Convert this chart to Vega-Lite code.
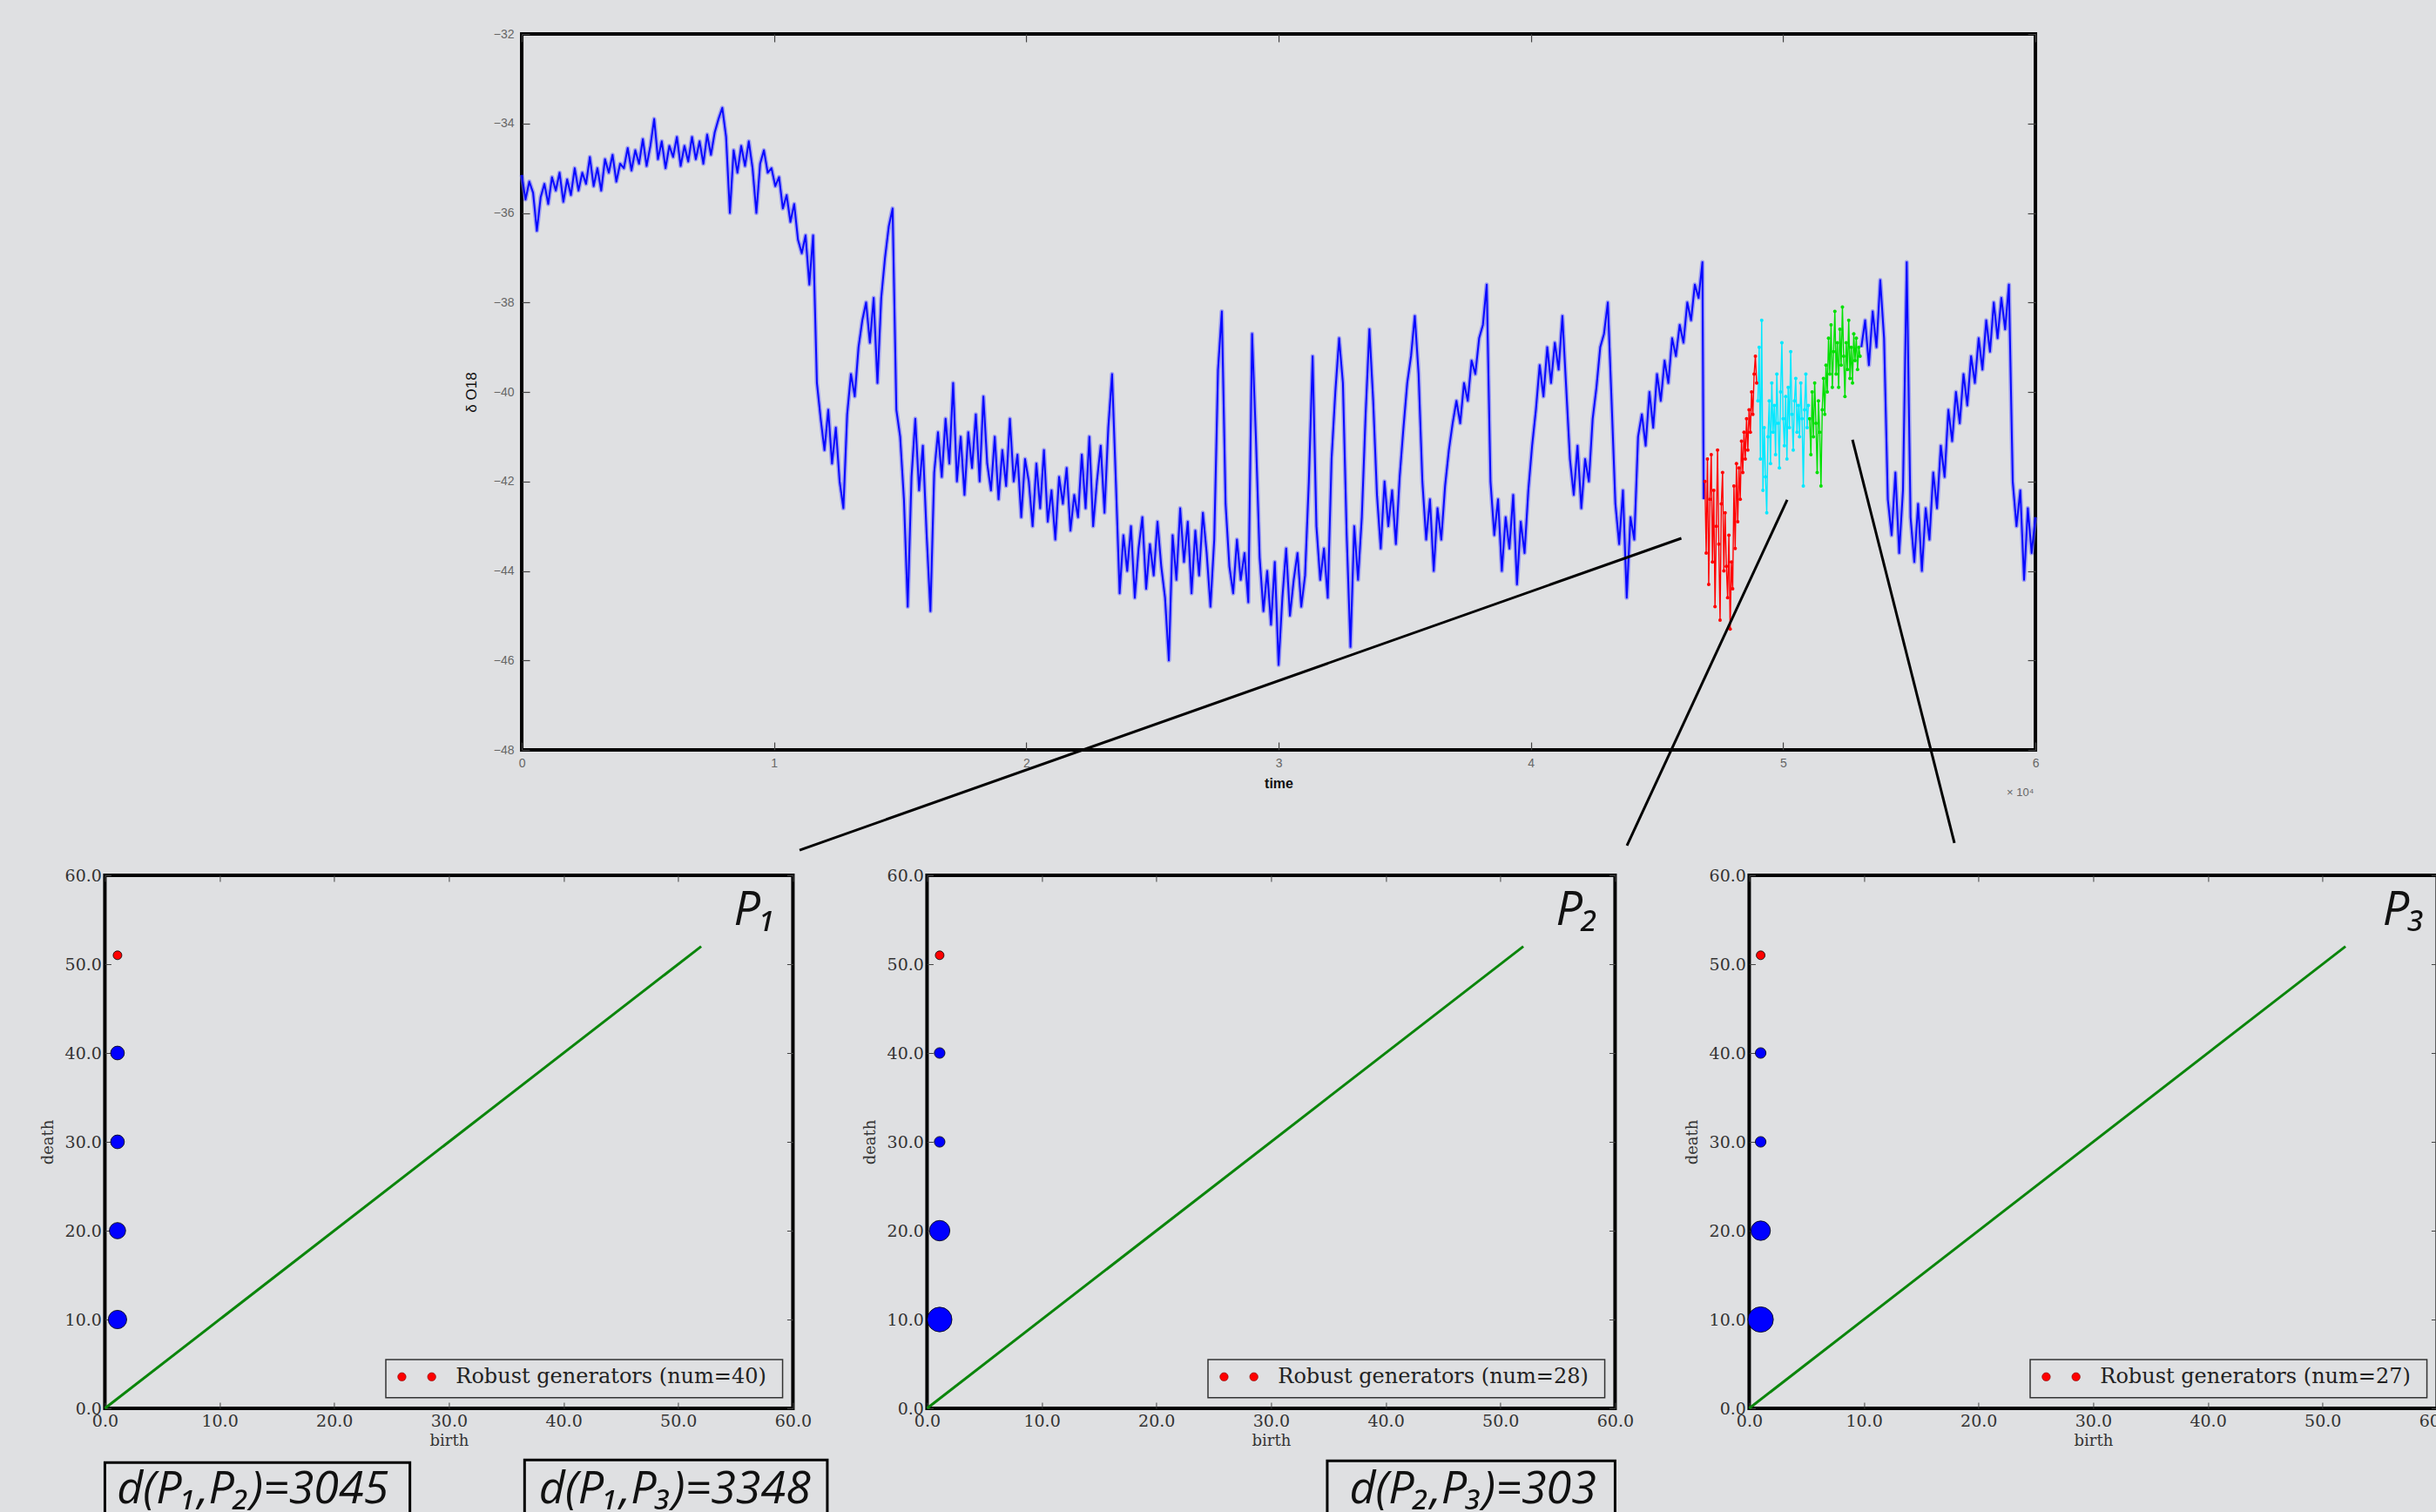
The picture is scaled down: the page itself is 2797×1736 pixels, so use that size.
{
"$schema": "https://vega.github.io/schema/vega-lite/v6.json",
"background": "#dfe0e2",
"padding": {"left": 44, "top": 30, "right": 0, "bottom": 0},
"autosize": {"type": "pad"},
"center": true,
"spacing": 14,
"resolve": {"scale": {"color": "independent", "size": "independent"}},
"config": {"view": {"stroke": "black", "strokeWidth": 4}, "axis": {"grid": false, "domain": false, "labelOverlap": false, "labelFlush": false}},
"datasets": {
"series": [
{"time":0,"d18O":-35.15,"part":"a"},{"time":150,"d18O":-35.7,"part":"a"},{"time":300,"d18O":-35.3,"part":"a"},{"time":450,"d18O":-35.55,"part":"a"},{"time":600,"d18O":-36.4,"part":"a"},{"time":750,"d18O":-35.65,"part":"a"},{"time":900,"d18O":-35.35,"part":"a"},{"time":1050,"d18O":-35.8,"part":"a"},{"time":1200,"d18O":-35.2,"part":"a"},{"time":1350,"d18O":-35.5,"part":"a"},{"time":1500,"d18O":-35.1,"part":"a"},{"time":1650,"d18O":-35.75,"part":"a"},{"time":1800,"d18O":-35.25,"part":"a"},{"time":1950,"d18O":-35.6,"part":"a"},
{"time":2100,"d18O":-35.0,"part":"a"},{"time":2250,"d18O":-35.5,"part":"a"},{"time":2400,"d18O":-35.1,"part":"a"},{"time":2550,"d18O":-35.35,"part":"a"},{"time":2700,"d18O":-34.75,"part":"a"},{"time":2850,"d18O":-35.4,"part":"a"},{"time":3000,"d18O":-35.0,"part":"a"},{"time":3150,"d18O":-35.5,"part":"a"},{"time":3300,"d18O":-34.8,"part":"a"},{"time":3450,"d18O":-35.1,"part":"a"},{"time":3600,"d18O":-34.7,"part":"a"},{"time":3750,"d18O":-35.3,"part":"a"},{"time":3900,"d18O":-34.9,"part":"a"},
{"time":4050,"d18O":-35.0,"part":"a"},{"time":4200,"d18O":-34.55,"part":"a"},{"time":4350,"d18O":-35.05,"part":"a"},{"time":4500,"d18O":-34.6,"part":"a"},{"time":4650,"d18O":-34.9,"part":"a"},{"time":4800,"d18O":-34.35,"part":"a"},{"time":4950,"d18O":-34.95,"part":"a"},{"time":5100,"d18O":-34.5,"part":"a"},{"time":5250,"d18O":-33.9,"part":"a"},{"time":5400,"d18O":-34.8,"part":"a"},{"time":5550,"d18O":-34.4,"part":"a"},{"time":5700,"d18O":-35.0,"part":"a"},{"time":5850,"d18O":-34.5,"part":"a"},{"time":6000,"d18O":-34.75,"part":"a"},{"time":6150,"d18O":-34.3,"part":"a"},{"time":6300,"d18O":-34.95,"part":"a"},{"time":6450,"d18O":-34.5,"part":"a"},{"time":6600,"d18O":-34.85,"part":"a"},{"time":6750,"d18O":-34.3,"part":"a"},{"time":6900,"d18O":-34.8,"part":"a"},{"time":7050,"d18O":-34.4,"part":"a"},{"time":7200,"d18O":-34.9,"part":"a"},{"time":7350,"d18O":-34.25,"part":"a"},{"time":7500,"d18O":-34.7,"part":"a"},
{"time":7650,"d18O":-34.2,"part":"a"},{"time":7800,"d18O":-33.9,"part":"a"},{"time":7950,"d18O":-33.65,"part":"a"},{"time":8100,"d18O":-34.3,"part":"a"},{"time":8250,"d18O":-36.0,"part":"a"},{"time":8400,"d18O":-34.6,"part":"a"},{"time":8550,"d18O":-35.1,"part":"a"},{"time":8700,"d18O":-34.5,"part":"a"},{"time":8850,"d18O":-34.95,"part":"a"},{"time":9000,"d18O":-34.4,"part":"a"},{"time":9150,"d18O":-35.0,"part":"a"},{"time":9300,"d18O":-36.0,"part":"a"},{"time":9450,"d18O":-34.9,"part":"a"},{"time":9600,"d18O":-34.6,"part":"a"},{"time":9750,"d18O":-35.1,"part":"a"},
{"time":9900,"d18O":-35.0,"part":"a"},{"time":10050,"d18O":-35.4,"part":"a"},{"time":10200,"d18O":-35.2,"part":"a"},{"time":10350,"d18O":-35.9,"part":"a"},{"time":10500,"d18O":-35.6,"part":"a"},{"time":10650,"d18O":-36.2,"part":"a"},{"time":10800,"d18O":-35.8,"part":"a"},{"time":10950,"d18O":-36.6,"part":"a"},{"time":11100,"d18O":-36.9,"part":"a"},{"time":11250,"d18O":-36.5,"part":"a"},{"time":11400,"d18O":-37.6,"part":"a"},{"time":11550,"d18O":-36.5,"part":"a"},
{"time":11700,"d18O":-39.8,"part":"a"},{"time":11850,"d18O":-40.6,"part":"a"},{"time":12000,"d18O":-41.3,"part":"a"},{"time":12150,"d18O":-40.4,"part":"a"},{"time":12300,"d18O":-41.6,"part":"a"},{"time":12450,"d18O":-40.8,"part":"a"},{"time":12600,"d18O":-42.0,"part":"a"},{"time":12750,"d18O":-42.6,"part":"a"},{"time":12900,"d18O":-40.5,"part":"a"},{"time":13050,"d18O":-39.6,"part":"a"},{"time":13200,"d18O":-40.1,"part":"a"},{"time":13350,"d18O":-39.0,"part":"a"},{"time":13500,"d18O":-38.4,"part":"a"},{"time":13650,"d18O":-38.0,"part":"a"},{"time":13800,"d18O":-38.9,"part":"a"},{"time":13950,"d18O":-37.9,"part":"a"},{"time":14100,"d18O":-39.8,"part":"a"},{"time":14250,"d18O":-37.9,"part":"a"},{"time":14400,"d18O":-37.0,"part":"a"},{"time":14550,"d18O":-36.3,"part":"a"},{"time":14700,"d18O":-35.9,"part":"a"},{"time":14850,"d18O":-40.4,"part":"a"},
{"time":15000,"d18O":-41.0,"part":"a"},{"time":15150,"d18O":-42.4,"part":"a"},{"time":15300,"d18O":-44.8,"part":"a"},{"time":15450,"d18O":-41.9,"part":"a"},{"time":15600,"d18O":-40.6,"part":"a"},{"time":15750,"d18O":-42.2,"part":"a"},{"time":15900,"d18O":-41.2,"part":"a"},{"time":16050,"d18O":-43.2,"part":"a"},{"time":16200,"d18O":-44.9,"part":"a"},{"time":16350,"d18O":-41.8,"part":"a"},{"time":16500,"d18O":-40.9,"part":"a"},
{"time":16650,"d18O":-41.9,"part":"a"},{"time":16800,"d18O":-40.6,"part":"a"},{"time":16950,"d18O":-41.6,"part":"a"},{"time":17100,"d18O":-39.8,"part":"a"},{"time":17250,"d18O":-42.0,"part":"a"},{"time":17400,"d18O":-41.0,"part":"a"},{"time":17550,"d18O":-42.3,"part":"a"},{"time":17700,"d18O":-40.9,"part":"a"},{"time":17850,"d18O":-41.7,"part":"a"},{"time":18000,"d18O":-40.5,"part":"a"},{"time":18150,"d18O":-42.0,"part":"a"},{"time":18300,"d18O":-40.1,"part":"a"},{"time":18450,"d18O":-41.6,"part":"a"},{"time":18600,"d18O":-42.2,"part":"a"},
{"time":18750,"d18O":-41.0,"part":"a"},{"time":18900,"d18O":-42.4,"part":"a"},{"time":19050,"d18O":-41.3,"part":"a"},{"time":19200,"d18O":-42.1,"part":"a"},{"time":19350,"d18O":-40.6,"part":"a"},{"time":19500,"d18O":-42.0,"part":"a"},{"time":19650,"d18O":-41.4,"part":"a"},{"time":19800,"d18O":-42.8,"part":"a"},{"time":19950,"d18O":-41.5,"part":"a"},
{"time":20100,"d18O":-42.0,"part":"a"},{"time":20250,"d18O":-43.0,"part":"a"},{"time":20400,"d18O":-41.6,"part":"a"},{"time":20550,"d18O":-42.6,"part":"a"},{"time":20700,"d18O":-41.3,"part":"a"},{"time":20850,"d18O":-42.9,"part":"a"},{"time":21000,"d18O":-42.2,"part":"a"},{"time":21150,"d18O":-43.3,"part":"a"},{"time":21300,"d18O":-41.9,"part":"a"},{"time":21450,"d18O":-42.5,"part":"a"},{"time":21600,"d18O":-41.7,"part":"a"},{"time":21750,"d18O":-43.1,"part":"a"},{"time":21900,"d18O":-42.3,"part":"a"},
{"time":22050,"d18O":-42.8,"part":"a"},{"time":22200,"d18O":-41.4,"part":"a"},{"time":22350,"d18O":-42.6,"part":"a"},{"time":22500,"d18O":-41.0,"part":"a"},{"time":22650,"d18O":-43.0,"part":"a"},{"time":22800,"d18O":-42.0,"part":"a"},{"time":22950,"d18O":-41.2,"part":"a"},{"time":23100,"d18O":-42.7,"part":"a"},{"time":23250,"d18O":-40.8,"part":"a"},{"time":23400,"d18O":-39.6,"part":"a"},{"time":23550,"d18O":-42.0,"part":"a"},
{"time":23700,"d18O":-44.5,"part":"a"},{"time":23850,"d18O":-43.2,"part":"a"},{"time":24000,"d18O":-44.0,"part":"a"},{"time":24150,"d18O":-43.0,"part":"a"},{"time":24300,"d18O":-44.6,"part":"a"},{"time":24450,"d18O":-43.5,"part":"a"},{"time":24600,"d18O":-42.8,"part":"a"},{"time":24750,"d18O":-44.4,"part":"a"},{"time":24900,"d18O":-43.4,"part":"a"},{"time":25050,"d18O":-44.1,"part":"a"},{"time":25200,"d18O":-42.9,"part":"a"},
{"time":25350,"d18O":-43.9,"part":"a"},{"time":25500,"d18O":-44.6,"part":"a"},{"time":25650,"d18O":-46.0,"part":"a"},{"time":25800,"d18O":-43.2,"part":"a"},{"time":25950,"d18O":-44.2,"part":"a"},{"time":26100,"d18O":-42.6,"part":"a"},{"time":26250,"d18O":-43.8,"part":"a"},{"time":26400,"d18O":-42.9,"part":"a"},{"time":26550,"d18O":-44.5,"part":"a"},{"time":26700,"d18O":-43.1,"part":"a"},{"time":26850,"d18O":-44.1,"part":"a"},{"time":27000,"d18O":-42.7,"part":"a"},{"time":27150,"d18O":-43.6,"part":"a"},{"time":27300,"d18O":-44.8,"part":"a"},{"time":27450,"d18O":-43.3,"part":"a"},
{"time":27600,"d18O":-39.5,"part":"a"},{"time":27750,"d18O":-38.2,"part":"a"},{"time":27900,"d18O":-42.5,"part":"a"},{"time":28050,"d18O":-43.9,"part":"a"},{"time":28200,"d18O":-44.5,"part":"a"},{"time":28350,"d18O":-43.3,"part":"a"},{"time":28500,"d18O":-44.2,"part":"a"},{"time":28650,"d18O":-43.6,"part":"a"},{"time":28800,"d18O":-44.7,"part":"a"},{"time":28950,"d18O":-38.7,"part":"a"},{"time":29100,"d18O":-41.0,"part":"a"},
{"time":29250,"d18O":-43.7,"part":"a"},{"time":29400,"d18O":-44.9,"part":"a"},{"time":29550,"d18O":-44.0,"part":"a"},{"time":29700,"d18O":-45.2,"part":"a"},{"time":29850,"d18O":-43.8,"part":"a"},{"time":30000,"d18O":-46.1,"part":"a"},{"time":30150,"d18O":-44.6,"part":"a"},{"time":30300,"d18O":-43.5,"part":"a"},{"time":30450,"d18O":-45.0,"part":"a"},{"time":30600,"d18O":-44.2,"part":"a"},{"time":30750,"d18O":-43.6,"part":"a"},{"time":30900,"d18O":-44.8,"part":"a"},{"time":31050,"d18O":-44.1,"part":"a"},
{"time":31200,"d18O":-42.0,"part":"a"},{"time":31350,"d18O":-39.2,"part":"a"},{"time":31500,"d18O":-43.0,"part":"a"},{"time":31650,"d18O":-44.2,"part":"a"},{"time":31800,"d18O":-43.5,"part":"a"},{"time":31950,"d18O":-44.6,"part":"a"},{"time":32100,"d18O":-41.5,"part":"a"},{"time":32250,"d18O":-40.0,"part":"a"},{"time":32400,"d18O":-38.8,"part":"a"},{"time":32550,"d18O":-39.8,"part":"a"},{"time":32700,"d18O":-43.2,"part":"a"},{"time":32850,"d18O":-45.7,"part":"a"},{"time":33000,"d18O":-43.0,"part":"a"},{"time":33150,"d18O":-44.2,"part":"a"},{"time":33300,"d18O":-42.8,"part":"a"},{"time":33450,"d18O":-40.5,"part":"a"},{"time":33600,"d18O":-38.6,"part":"a"},{"time":33750,"d18O":-40.2,"part":"a"},{"time":33900,"d18O":-42.3,"part":"a"},{"time":34050,"d18O":-43.5,"part":"a"},{"time":34200,"d18O":-42.0,"part":"a"},{"time":34350,"d18O":-43.0,"part":"a"},{"time":34500,"d18O":-42.2,"part":"a"},{"time":34650,"d18O":-43.4,"part":"a"},{"time":34800,"d18O":-41.9,"part":"a"},{"time":34950,"d18O":-40.8,"part":"a"},{"time":35100,"d18O":-39.8,"part":"a"},{"time":35250,"d18O":-39.2,"part":"a"},{"time":35400,"d18O":-38.3,"part":"a"},{"time":35550,"d18O":-39.6,"part":"a"},{"time":35700,"d18O":-42.0,"part":"a"},{"time":35850,"d18O":-43.3,"part":"a"},{"time":36000,"d18O":-42.4,"part":"a"},{"time":36150,"d18O":-44.0,"part":"a"},{"time":36300,"d18O":-42.6,"part":"a"},{"time":36450,"d18O":-43.3,"part":"a"},{"time":36600,"d18O":-42.1,"part":"a"},{"time":36750,"d18O":-41.3,"part":"a"},{"time":36900,"d18O":-40.7,"part":"a"},{"time":37050,"d18O":-40.2,"part":"a"},{"time":37200,"d18O":-40.7,"part":"a"},{"time":37350,"d18O":-39.8,"part":"a"},{"time":37500,"d18O":-40.2,"part":"a"},{"time":37650,"d18O":-39.3,"part":"a"},{"time":37800,"d18O":-39.6,"part":"a"},{"time":37950,"d18O":-38.8,"part":"a"},{"time":38100,"d18O":-38.5,"part":"a"},{"time":38250,"d18O":-37.6,"part":"a"},{"time":38400,"d18O":-42.0,"part":"a"},{"time":38550,"d18O":-43.2,"part":"a"},{"time":38700,"d18O":-42.4,"part":"a"},{"time":38850,"d18O":-44.0,"part":"a"},{"time":39000,"d18O":-42.8,"part":"a"},{"time":39150,"d18O":-43.5,"part":"a"},{"time":39300,"d18O":-42.3,"part":"a"},{"time":39450,"d18O":-44.3,"part":"a"},{"time":39600,"d18O":-42.9,"part":"a"},{"time":39750,"d18O":-43.6,"part":"a"},{"time":39900,"d18O":-42.2,"part":"a"},
{"time":40050,"d18O":-41.2,"part":"a"},{"time":40200,"d18O":-40.4,"part":"a"},{"time":40350,"d18O":-39.4,"part":"a"},{"time":40500,"d18O":-40.1,"part":"a"},{"time":40650,"d18O":-39.0,"part":"a"},{"time":40800,"d18O":-39.8,"part":"a"},{"time":40950,"d18O":-38.9,"part":"a"},{"time":41100,"d18O":-39.5,"part":"a"},{"time":41250,"d18O":-38.3,"part":"a"},{"time":41400,"d18O":-39.9,"part":"a"},{"time":41550,"d18O":-41.5,"part":"a"},{"time":41700,"d18O":-42.3,"part":"a"},{"time":41850,"d18O":-41.2,"part":"a"},{"time":42000,"d18O":-42.6,"part":"a"},{"time":42150,"d18O":-41.5,"part":"a"},{"time":42300,"d18O":-42.0,"part":"a"},{"time":42450,"d18O":-40.6,"part":"a"},{"time":42600,"d18O":-39.9,"part":"a"},{"time":42750,"d18O":-39.0,"part":"a"},{"time":42900,"d18O":-38.7,"part":"a"},{"time":43050,"d18O":-38.0,"part":"a"},{"time":43200,"d18O":-40.2,"part":"a"},{"time":43350,"d18O":-42.5,"part":"a"},{"time":43500,"d18O":-43.4,"part":"a"},{"time":43650,"d18O":-42.2,"part":"a"},{"time":43800,"d18O":-44.6,"part":"a"},{"time":43950,"d18O":-42.8,"part":"a"},{"time":44100,"d18O":-43.3,"part":"a"},{"time":44250,"d18O":-41.0,"part":"a"},{"time":44400,"d18O":-40.5,"part":"a"},{"time":44550,"d18O":-41.2,"part":"a"},{"time":44700,"d18O":-40.0,"part":"a"},{"time":44850,"d18O":-40.8,"part":"a"},{"time":45000,"d18O":-39.6,"part":"a"},{"time":45150,"d18O":-40.2,"part":"a"},{"time":45300,"d18O":-39.3,"part":"a"},{"time":45450,"d18O":-39.8,"part":"a"},{"time":45600,"d18O":-38.8,"part":"a"},{"time":45750,"d18O":-39.2,"part":"a"},{"time":45900,"d18O":-38.5,"part":"a"},{"time":46050,"d18O":-38.9,"part":"a"},{"time":46200,"d18O":-38.0,"part":"a"},{"time":46350,"d18O":-38.4,"part":"a"},{"time":46500,"d18O":-37.6,"part":"a"},{"time":46650,"d18O":-37.9,"part":"a"},{"time":46800,"d18O":-37.1,"part":"a"},{"time":46850,"d18O":-42.4,"part":"a"},
{"time":53100,"d18O":-39.0,"part":"b"},{"time":53250,"d18O":-38.4,"part":"b"},{"time":53400,"d18O":-39.4,"part":"b"},{"time":53550,"d18O":-38.2,"part":"b"},{"time":53700,"d18O":-39.0,"part":"b"},{"time":53850,"d18O":-37.5,"part":"b"},{"time":54000,"d18O":-38.8,"part":"b"},{"time":54150,"d18O":-42.4,"part":"b"},{"time":54300,"d18O":-43.2,"part":"b"},{"time":54450,"d18O":-41.8,"part":"b"},{"time":54600,"d18O":-43.6,"part":"b"},{"time":54750,"d18O":-42.2,"part":"b"},{"time":54900,"d18O":-37.1,"part":"b"},{"time":55050,"d18O":-42.8,"part":"b"},{"time":55200,"d18O":-43.8,"part":"b"},{"time":55350,"d18O":-42.5,"part":"b"},{"time":55500,"d18O":-44.0,"part":"b"},{"time":55650,"d18O":-42.6,"part":"b"},{"time":55800,"d18O":-43.3,"part":"b"},{"time":55950,"d18O":-41.8,"part":"b"},{"time":56100,"d18O":-42.6,"part":"b"},{"time":56250,"d18O":-41.2,"part":"b"},{"time":56400,"d18O":-41.9,"part":"b"},{"time":56550,"d18O":-40.4,"part":"b"},{"time":56700,"d18O":-41.1,"part":"b"},{"time":56850,"d18O":-40.0,"part":"b"},{"time":57000,"d18O":-40.7,"part":"b"},{"time":57150,"d18O":-39.6,"part":"b"},{"time":57300,"d18O":-40.3,"part":"b"},{"time":57450,"d18O":-39.2,"part":"b"},{"time":57600,"d18O":-39.8,"part":"b"},{"time":57750,"d18O":-38.8,"part":"b"},{"time":57900,"d18O":-39.5,"part":"b"},{"time":58050,"d18O":-38.4,"part":"b"},{"time":58200,"d18O":-39.1,"part":"b"},{"time":58350,"d18O":-38.0,"part":"b"},{"time":58500,"d18O":-38.8,"part":"b"},{"time":58650,"d18O":-37.9,"part":"b"},{"time":58800,"d18O":-38.6,"part":"b"},{"time":58950,"d18O":-37.6,"part":"b"},{"time":59100,"d18O":-42.0,"part":"b"},{"time":59250,"d18O":-43.0,"part":"b"},{"time":59400,"d18O":-42.2,"part":"b"},{"time":59550,"d18O":-44.2,"part":"b"},{"time":59700,"d18O":-42.6,"part":"b"},{"time":59850,"d18O":-43.6,"part":"b"},{"time":60000,"d18O":-42.8,"part":"b"}
],
"window": [
{"time":46900,"d18O":-42.0,"window":"red"},{"time":46950,"d18O":-43.6,"window":"red"},{"time":47000,"d18O":-41.5,"window":"red"},{"time":47050,"d18O":-44.3,"window":"red"},{"time":47100,"d18O":-42.4,"window":"red"},{"time":47150,"d18O":-41.4,"window":"red"},{"time":47200,"d18O":-43.8,"window":"red"},{"time":47250,"d18O":-42.2,"window":"red"},{"time":47300,"d18O":-44.8,"window":"red"},{"time":47350,"d18O":-43.0,"window":"red"},{"time":47400,"d18O":-41.3,"window":"red"},{"time":47450,"d18O":-43.4,"window":"red"},{"time":47500,"d18O":-45.1,"window":"red"},{"time":47550,"d18O":-42.5,"window":"red"},{"time":47600,"d18O":-41.8,"window":"red"},{"time":47650,"d18O":-44.0,"window":"red"},{"time":47700,"d18O":-42.7,"window":"red"},{"time":47750,"d18O":-43.9,"window":"red"},{"time":47800,"d18O":-44.6,"window":"red"},{"time":47850,"d18O":-43.2,"window":"red"},{"time":47900,"d18O":-45.3,"window":"red"},{"time":47950,"d18O":-43.8,"window":"red"},{"time":48000,"d18O":-44.4,"window":"red"},{"time":48050,"d18O":-42.1,"window":"red"},{"time":48100,"d18O":-43.5,"window":"red"},{"time":48150,"d18O":-41.6,"window":"red"},{"time":48200,"d18O":-42.9,"window":"red"},{"time":48250,"d18O":-41.7,"window":"red"},{"time":48300,"d18O":-42.4,"window":"red"},{"time":48350,"d18O":-41.1,"window":"red"},{"time":48400,"d18O":-41.8,"window":"red"},{"time":48450,"d18O":-40.9,"window":"red"},{"time":48500,"d18O":-41.5,"window":"red"},{"time":48550,"d18O":-40.6,"window":"red"},{"time":48600,"d18O":-41.3,"window":"red"},{"time":48650,"d18O":-40.4,"window":"red"},{"time":48700,"d18O":-40.9,"window":"red"},{"time":48750,"d18O":-40.0,"window":"red"},{"time":48800,"d18O":-40.5,"window":"red"},{"time":48850,"d18O":-39.6,"window":"red"},{"time":48900,"d18O":-39.2,"window":"red"},{"time":48950,"d18O":-39.8,"window":"red"},
{"time":49000,"d18O":-40.2,"window":"cyan"},{"time":49050,"d18O":-39.0,"window":"cyan"},{"time":49100,"d18O":-41.5,"window":"cyan"},{"time":49150,"d18O":-38.4,"window":"cyan"},{"time":49200,"d18O":-42.2,"window":"cyan"},{"time":49250,"d18O":-40.8,"window":"cyan"},{"time":49300,"d18O":-41.9,"window":"cyan"},{"time":49350,"d18O":-42.7,"window":"cyan"},{"time":49400,"d18O":-41.0,"window":"cyan"},{"time":49450,"d18O":-40.2,"window":"cyan"},{"time":49500,"d18O":-41.6,"window":"cyan"},{"time":49550,"d18O":-39.8,"window":"cyan"},{"time":49600,"d18O":-40.9,"window":"cyan"},{"time":49650,"d18O":-40.3,"window":"cyan"},{"time":49700,"d18O":-41.4,"window":"cyan"},{"time":49750,"d18O":-39.6,"window":"cyan"},{"time":49800,"d18O":-40.7,"window":"cyan"},{"time":49850,"d18O":-41.7,"window":"cyan"},{"time":49900,"d18O":-40.0,"window":"cyan"},{"time":49950,"d18O":-38.9,"window":"cyan"},{"time":50000,"d18O":-40.6,"window":"cyan"},{"time":50050,"d18O":-41.2,"window":"cyan"},{"time":50100,"d18O":-40.1,"window":"cyan"},{"time":50150,"d18O":-41.5,"window":"cyan"},{"time":50200,"d18O":-39.9,"window":"cyan"},{"time":50250,"d18O":-40.8,"window":"cyan"},{"time":50300,"d18O":-39.1,"window":"cyan"},{"time":50350,"d18O":-40.5,"window":"cyan"},{"time":50400,"d18O":-41.3,"window":"cyan"},{"time":50450,"d18O":-40.2,"window":"cyan"},{"time":50500,"d18O":-39.7,"window":"cyan"},{"time":50550,"d18O":-40.9,"window":"cyan"},{"time":50600,"d18O":-40.3,"window":"cyan"},{"time":50650,"d18O":-41.0,"window":"cyan"},{"time":50700,"d18O":-39.8,"window":"cyan"},{"time":50750,"d18O":-40.6,"window":"cyan"},{"time":50800,"d18O":-42.1,"window":"cyan"},{"time":50850,"d18O":-40.4,"window":"cyan"},{"time":50900,"d18O":-39.6,"window":"cyan"},{"time":50950,"d18O":-40.8,"window":"cyan"},{"time":51000,"d18O":-40.3,"window":"cyan"},
{"time":51050,"d18O":-40.6,"window":"green"},{"time":51100,"d18O":-41.4,"window":"green"},{"time":51150,"d18O":-40.0,"window":"green"},{"time":51200,"d18O":-41.0,"window":"green"},{"time":51250,"d18O":-39.8,"window":"green"},{"time":51300,"d18O":-40.7,"window":"green"},{"time":51350,"d18O":-41.8,"window":"green"},{"time":51400,"d18O":-40.2,"window":"green"},{"time":51450,"d18O":-40.9,"window":"green"},{"time":51500,"d18O":-42.1,"window":"green"},{"time":51550,"d18O":-40.4,"window":"green"},{"time":51600,"d18O":-39.7,"window":"green"},{"time":51650,"d18O":-40.5,"window":"green"},{"time":51700,"d18O":-39.4,"window":"green"},{"time":51750,"d18O":-40.0,"window":"green"},{"time":51800,"d18O":-38.8,"window":"green"},{"time":51850,"d18O":-39.6,"window":"green"},{"time":51900,"d18O":-38.5,"window":"green"},{"time":51950,"d18O":-39.9,"window":"green"},{"time":52000,"d18O":-39.1,"window":"green"},{"time":52050,"d18O":-38.2,"window":"green"},{"time":52100,"d18O":-39.6,"window":"green"},{"time":52150,"d18O":-38.9,"window":"green"},{"time":52200,"d18O":-39.9,"window":"green"},{"time":52250,"d18O":-38.6,"window":"green"},{"time":52300,"d18O":-39.4,"window":"green"},{"time":52350,"d18O":-38.1,"window":"green"},{"time":52400,"d18O":-39.2,"window":"green"},{"time":52450,"d18O":-40.1,"window":"green"},{"time":52500,"d18O":-38.9,"window":"green"},{"time":52550,"d18O":-39.5,"window":"green"},{"time":52600,"d18O":-38.4,"window":"green"},{"time":52650,"d18O":-39.7,"window":"green"},{"time":52700,"d18O":-39.0,"window":"green"},{"time":52750,"d18O":-39.8,"window":"green"},{"time":52800,"d18O":-38.7,"window":"green"},{"time":52850,"d18O":-39.3,"window":"green"},{"time":52900,"d18O":-38.8,"window":"green"},{"time":52950,"d18O":-39.5,"window":"green"},{"time":53000,"d18O":-39.0,"window":"green"},{"time":53050,"d18O":-39.2,"window":"green"}
],
"links": [
{"time":45966,"d18O":-43.27,"time2":11013,"d18O2":-50.24},
{"time":50161,"d18O":-42.41,"time2":43809,"d18O2":-50.14},
{"time":52750,"d18O":-41.07,"time2":56789,"d18O2":-50.08}
],
"diagram": [
{"panel":"P1","birth":1.1,"death":10,"kind":"generator","mult":9},{"panel":"P1","birth":1.1,"death":20,"kind":"generator","mult":7},{"panel":"P1","birth":1.1,"death":30,"kind":"generator","mult":5},{"panel":"P1","birth":1.1,"death":40,"kind":"generator","mult":5},{"panel":"P1","birth":1.1,"death":51,"kind":"robust","mult":2},
{"panel":"P2","birth":1.1,"death":10,"kind":"generator","mult":16},{"panel":"P2","birth":1.1,"death":20,"kind":"generator","mult":11},{"panel":"P2","birth":1.1,"death":30,"kind":"generator","mult":3},{"panel":"P2","birth":1.1,"death":40,"kind":"generator","mult":3},{"panel":"P2","birth":1.1,"death":51,"kind":"robust","mult":2},
{"panel":"P3","birth":1.0,"death":10,"kind":"generator","mult":17},{"panel":"P3","birth":1.0,"death":20,"kind":"generator","mult":10},{"panel":"P3","birth":1.0,"death":30,"kind":"generator","mult":3},{"panel":"P3","birth":1.0,"death":40,"kind":"generator","mult":3},{"panel":"P3","birth":1.0,"death":51,"kind":"robust","mult":2}
],
"diag_line": [{"birth":0,"death":0,"birth2":52,"death2":52}],
"legend_box": [{"birth":24.5,"death":1.2,"birth2":59.1,"death2":5.5}],
"legend_dots": [{"birth":25.9,"death":3.55},{"birth":28.5,"death":3.55}],
"legend_text": [
{"panel":"P1","birth":30.6,"death":3.55,"label":"Robust generators (num=40)"},
{"panel":"P2","birth":30.6,"death":3.55,"label":"Robust generators (num=28)"},
{"panel":"P3","birth":30.6,"death":3.55,"label":"Robust generators (num=27)"}
],
"panel_names": [
{"panel":"P1","birth":58.6,"death":54.4,"label":"P₁"},
{"panel":"P2","birth":58.6,"death":54.4,"label":"P₂"},
{"panel":"P3","birth":59.0,"death":54.4,"label":"P₃"}
],
"distance_boxes": [
{"panel":"P1","birth":0,"birth2":26.6,"death":-6.1,"death2":-14},
{"panel":"P1","birth":36.6,"birth2":63.0,"death":-5.8,"death2":-14},
{"panel":"P2","birth":34.9,"birth2":60.0,"death":-5.9,"death2":-14}
],
"distance_text": [
{"panel":"P1","birth":12.9,"death":-10.7,"label":"d(P₁,P₂)=3045"},
{"panel":"P1","birth":49.7,"death":-10.7,"label":"d(P₁,P₃)=3348"},
{"panel":"P2","birth":47.6,"death":-10.7,"label":"d(P₂,P₃)=303"}
]
},
"vconcat": [
{
"width": 1738, "height": 822,
"resolve": {"axis": {"x": "independent", "y": "independent"}},
"layer": [
{"data": {"name": "series"},
 "mark": {"type": "line", "color": "#6a6aff", "strokeWidth": 5, "opacity": 0.55, "strokeJoin": "round", "strokeCap": "butt"},
 "encoding": {
  "x": {"field": "time", "type": "quantitative", "scale": {"domain": [0, 60000], "nice": false, "zero": false},
   "axis": {"orient": "bottom", "values": [0,10000,20000,30000,40000,50000,60000], "labelExpr": "format(datum.value/10000, 'd')", "title": "time", "tickSize": -9, "tickColor": "#444", "tickWidth": 1.2, "labelFont": "Liberation Sans", "labelFontSize": 14, "labelColor": "#666", "labelPadding": 17, "titleFont": "Liberation Sans", "titleFontSize": 16, "titleFontWeight": "bold", "titleColor": "#111", "titlePadding": 8}},
  "y": {"field": "d18O", "type": "quantitative", "scale": {"domain": [-48, -32], "nice": false, "zero": false},
   "axis": {"orient": "left", "values": [-48,-46,-44,-42,-40,-38,-36,-34,-32], "title": "δ O18", "tickSize": -9, "tickColor": "#444", "tickWidth": 1.2, "labelFont": "Liberation Sans", "labelFontSize": 14, "labelColor": "#666", "labelPadding": 18, "titleFont": "Liberation Sans", "titleFontSize": 17, "titleFontWeight": "normal", "titleColor": "#111", "titlePadding": 16}},
  "detail": {"field": "part"}
 }},
{"data": {"name": "series"},
 "mark": {"type": "line", "color": "#0000ff", "strokeWidth": 2, "opacity": 0.95, "strokeJoin": "round"},
 "encoding": {
  "x": {"field": "time", "type": "quantitative", "axis": null},
  "y": {"field": "d18O", "type": "quantitative", "axis": null},
  "detail": {"field": "part"}
 }},
{"data": {"name": "window"},
 "mark": {"type": "line", "strokeWidth": 1.4, "strokeJoin": "round", "point": {"filled": true, "size": 16}},
 "encoding": {
  "x": {"field": "time", "type": "quantitative", "axis": {"orient": "top", "values": [0,10000,20000,30000,40000,50000,60000], "labels": false, "title": null, "tickSize": -9, "tickColor": "#444", "tickWidth": 1.2}},
  "y": {"field": "d18O", "type": "quantitative", "axis": {"orient": "right", "values": [-48,-46,-44,-42,-40,-38,-36,-34,-32], "labels": false, "title": null, "tickSize": -9, "tickColor": "#444", "tickWidth": 1.2}},
  "color": {"field": "window", "type": "nominal", "scale": {"domain": ["red", "cyan", "green"], "range": ["#ff0000", "#00e8ff", "#00e000"]}, "legend": null}
 }},
{"data": {"name": "links"},
 "mark": {"type": "rule", "color": "black", "strokeWidth": 3},
 "encoding": {"x": {"field": "time", "type": "quantitative", "axis": null}, "y": {"field": "d18O", "type": "quantitative", "axis": null}, "x2": {"field": "time2"}, "y2": {"field": "d18O2"}}},
{"data": {"values": [{"time": 59400, "d18O": -48.95, "label": "× 10⁴"}]},
 "mark": {"type": "text", "fontSize": 13, "color": "#666", "font": "Liberation Sans", "align": "center", "baseline": "middle"},
 "encoding": {"x": {"field": "time", "type": "quantitative", "axis": null}, "y": {"field": "d18O", "type": "quantitative", "axis": null}, "text": {"field": "label"}}}
]
},
{
"bounds": "flush",
"spacing": 154,
"hconcat": [
{
"width": 790, "height": 612,
"resolve": {"axis": {"x": "independent", "y": "independent"}},
"layer": [
{"data": {"name": "diag_line"},
 "mark": {"type": "rule", "color": "#0b850b", "strokeWidth": 3},
 "encoding": {
  "x": {"field": "birth", "type": "quantitative", "scale": {"domain": [0, 60], "nice": false, "zero": false},
   "axis": {"orient": "bottom", "values": [0,10,20,30,40,50,60], "format": ".1f", "title": "birth", "tickSize": -7, "tickColor": "#444", "labelFont": "DejaVu Serif", "labelFontSize": 19, "labelColor": "#333", "labelPadding": 12, "titleFont": "DejaVu Serif", "titleFontSize": 18, "titleFontWeight": "normal", "titleColor": "#333", "titlePadding": 4}},
  "y": {"field": "death", "type": "quantitative", "scale": {"domain": [0, 60], "nice": false, "zero": false},
   "axis": {"orient": "left", "values": [0,10,20,30,40,50,60], "format": ".1f", "title": "death", "tickSize": -7, "tickColor": "#444", "labelFont": "DejaVu Serif", "labelFontSize": 19, "labelColor": "#333", "labelPadding": 11, "titleFont": "DejaVu Serif", "titleFontSize": 18, "titleFontWeight": "normal", "titleColor": "#333", "titlePadding": 10}},
  "x2": {"field": "birth2"}, "y2": {"field": "death2"}
 }},
{"data": {"name": "diagram"}, "transform": [{"filter": "datum.panel == 'P1'"}],
 "mark": {"type": "circle", "stroke": "black", "strokeWidth": 0.8, "opacity": 1},
 "encoding": {
  "x": {"field": "birth", "type": "quantitative", "axis": {"orient": "top", "values": [0,10,20,30,40,50,60], "labels": false, "title": null, "tickSize": -7, "tickColor": "#444"}},
  "y": {"field": "death", "type": "quantitative", "axis": {"orient": "right", "values": [0,10,20,30,40,50,60], "labels": false, "title": null, "tickSize": -7, "tickColor": "#444"}},
  "size": {"field": "mult", "type": "quantitative", "scale": {"domain": [0, 20], "range": [0, 1000]}, "legend": null},
  "color": {"field": "kind", "type": "nominal", "scale": {"domain": ["generator", "robust"], "range": ["#0000ff", "#ff0000"]}, "legend": null}
 }},
{"data": {"name": "legend_box"},
 "mark": {"type": "rect", "fill": "transparent", "stroke": "#333", "strokeWidth": 1.5},
 "encoding": {"x": {"field": "birth", "type": "quantitative", "axis": null}, "x2": {"field": "birth2"}, "y": {"field": "death", "type": "quantitative", "axis": null}, "y2": {"field": "death2"}}},
{"data": {"name": "legend_dots"},
 "mark": {"type": "circle", "color": "#ff0000", "size": 90, "opacity": 1, "stroke": "#700", "strokeWidth": 0.6},
 "encoding": {"x": {"field": "birth", "type": "quantitative", "axis": null}, "y": {"field": "death", "type": "quantitative", "axis": null}}},
{"data": {"name": "legend_text"}, "transform": [{"filter": "datum.panel == 'P1'"}],
 "mark": {"type": "text", "align": "left", "baseline": "middle", "font": "DejaVu Serif", "fontSize": 24, "color": "#222"},
 "encoding": {"x": {"field": "birth", "type": "quantitative", "axis": null}, "y": {"field": "death", "type": "quantitative", "axis": null}, "text": {"field": "label"}}},
{"data": {"name": "panel_names"}, "transform": [{"filter": "datum.panel == 'P1'"}],
 "mark": {"type": "text", "align": "right", "baseline": "alphabetic", "font": "Open Sans", "fontStyle": "italic", "fontSize": 54, "color": "#111"},
 "encoding": {"x": {"field": "birth", "type": "quantitative", "axis": null}, "y": {"field": "death", "type": "quantitative", "axis": null}, "text": {"field": "label"}}},
{"data": {"name": "distance_boxes"}, "transform": [{"filter": "datum.panel == 'P1'"}],
 "mark": {"type": "rect", "fill": "transparent", "stroke": "black", "strokeWidth": 3},
 "encoding": {"x": {"field": "birth", "type": "quantitative", "axis": null}, "x2": {"field": "birth2"}, "y": {"field": "death", "type": "quantitative", "axis": null}, "y2": {"field": "death2"}}},
{"data": {"name": "distance_text"}, "transform": [{"filter": "datum.panel == 'P1'"}],
 "mark": {"type": "text", "align": "center", "baseline": "alphabetic", "font": "Open Sans", "fontStyle": "italic", "fontSize": 52, "color": "#111"},
 "encoding": {"x": {"field": "birth", "type": "quantitative", "axis": null}, "y": {"field": "death", "type": "quantitative", "axis": null}, "text": {"field": "label"}}}
]
},
{
"width": 790, "height": 612,
"resolve": {"axis": {"x": "independent", "y": "independent"}},
"layer": [
{"data": {"name": "diag_line"},
 "mark": {"type": "rule", "color": "#0b850b", "strokeWidth": 3},
 "encoding": {
  "x": {"field": "birth", "type": "quantitative", "scale": {"domain": [0, 60], "nice": false, "zero": false},
   "axis": {"orient": "bottom", "values": [0,10,20,30,40,50,60], "format": ".1f", "title": "birth", "tickSize": -7, "tickColor": "#444", "labelFont": "DejaVu Serif", "labelFontSize": 19, "labelColor": "#333", "labelPadding": 12, "titleFont": "DejaVu Serif", "titleFontSize": 18, "titleFontWeight": "normal", "titleColor": "#333", "titlePadding": 4}},
  "y": {"field": "death", "type": "quantitative", "scale": {"domain": [0, 60], "nice": false, "zero": false},
   "axis": {"orient": "left", "values": [0,10,20,30,40,50,60], "format": ".1f", "title": "death", "tickSize": -7, "tickColor": "#444", "labelFont": "DejaVu Serif", "labelFontSize": 19, "labelColor": "#333", "labelPadding": 11, "titleFont": "DejaVu Serif", "titleFontSize": 18, "titleFontWeight": "normal", "titleColor": "#333", "titlePadding": 10}},
  "x2": {"field": "birth2"}, "y2": {"field": "death2"}
 }},
{"data": {"name": "diagram"}, "transform": [{"filter": "datum.panel == 'P2'"}],
 "mark": {"type": "circle", "stroke": "black", "strokeWidth": 0.8, "opacity": 1},
 "encoding": {
  "x": {"field": "birth", "type": "quantitative", "axis": {"orient": "top", "values": [0,10,20,30,40,50,60], "labels": false, "title": null, "tickSize": -7, "tickColor": "#444"}},
  "y": {"field": "death", "type": "quantitative", "axis": {"orient": "right", "values": [0,10,20,30,40,50,60], "labels": false, "title": null, "tickSize": -7, "tickColor": "#444"}},
  "size": {"field": "mult", "type": "quantitative", "scale": {"domain": [0, 20], "range": [0, 1000]}, "legend": null},
  "color": {"field": "kind", "type": "nominal", "scale": {"domain": ["generator", "robust"], "range": ["#0000ff", "#ff0000"]}, "legend": null}
 }},
{"data": {"name": "legend_box"},
 "mark": {"type": "rect", "fill": "transparent", "stroke": "#333", "strokeWidth": 1.5},
 "encoding": {"x": {"field": "birth", "type": "quantitative", "axis": null}, "x2": {"field": "birth2"}, "y": {"field": "death", "type": "quantitative", "axis": null}, "y2": {"field": "death2"}}},
{"data": {"name": "legend_dots"},
 "mark": {"type": "circle", "color": "#ff0000", "size": 90, "opacity": 1, "stroke": "#700", "strokeWidth": 0.6},
 "encoding": {"x": {"field": "birth", "type": "quantitative", "axis": null}, "y": {"field": "death", "type": "quantitative", "axis": null}}},
{"data": {"name": "legend_text"}, "transform": [{"filter": "datum.panel == 'P2'"}],
 "mark": {"type": "text", "align": "left", "baseline": "middle", "font": "DejaVu Serif", "fontSize": 24, "color": "#222"},
 "encoding": {"x": {"field": "birth", "type": "quantitative", "axis": null}, "y": {"field": "death", "type": "quantitative", "axis": null}, "text": {"field": "label"}}},
{"data": {"name": "panel_names"}, "transform": [{"filter": "datum.panel == 'P2'"}],
 "mark": {"type": "text", "align": "right", "baseline": "alphabetic", "font": "Open Sans", "fontStyle": "italic", "fontSize": 54, "color": "#111"},
 "encoding": {"x": {"field": "birth", "type": "quantitative", "axis": null}, "y": {"field": "death", "type": "quantitative", "axis": null}, "text": {"field": "label"}}},
{"data": {"name": "distance_boxes"}, "transform": [{"filter": "datum.panel == 'P2'"}],
 "mark": {"type": "rect", "fill": "transparent", "stroke": "black", "strokeWidth": 3},
 "encoding": {"x": {"field": "birth", "type": "quantitative", "axis": null}, "x2": {"field": "birth2"}, "y": {"field": "death", "type": "quantitative", "axis": null}, "y2": {"field": "death2"}}},
{"data": {"name": "distance_text"}, "transform": [{"filter": "datum.panel == 'P2'"}],
 "mark": {"type": "text", "align": "center", "baseline": "alphabetic", "font": "Open Sans", "fontStyle": "italic", "fontSize": 52, "color": "#111"},
 "encoding": {"x": {"field": "birth", "type": "quantitative", "axis": null}, "y": {"field": "death", "type": "quantitative", "axis": null}, "text": {"field": "label"}}}
]
},
{
"width": 790, "height": 612,
"resolve": {"axis": {"x": "independent", "y": "independent"}},
"layer": [
{"data": {"name": "diag_line"},
 "mark": {"type": "rule", "color": "#0b850b", "strokeWidth": 3},
 "encoding": {
  "x": {"field": "birth", "type": "quantitative", "scale": {"domain": [0, 60], "nice": false, "zero": false},
   "axis": {"orient": "bottom", "values": [0,10,20,30,40,50,60], "format": ".1f", "title": "birth", "tickSize": -7, "tickColor": "#444", "labelFont": "DejaVu Serif", "labelFontSize": 19, "labelColor": "#333", "labelPadding": 12, "titleFont": "DejaVu Serif", "titleFontSize": 18, "titleFontWeight": "normal", "titleColor": "#333", "titlePadding": 4}},
  "y": {"field": "death", "type": "quantitative", "scale": {"domain": [0, 60], "nice": false, "zero": false},
   "axis": {"orient": "left", "values": [0,10,20,30,40,50,60], "format": ".1f", "title": "death", "tickSize": -7, "tickColor": "#444", "labelFont": "DejaVu Serif", "labelFontSize": 19, "labelColor": "#333", "labelPadding": 11, "titleFont": "DejaVu Serif", "titleFontSize": 18, "titleFontWeight": "normal", "titleColor": "#333", "titlePadding": 10}},
  "x2": {"field": "birth2"}, "y2": {"field": "death2"}
 }},
{"data": {"name": "diagram"}, "transform": [{"filter": "datum.panel == 'P3'"}],
 "mark": {"type": "circle", "stroke": "black", "strokeWidth": 0.8, "opacity": 1},
 "encoding": {
  "x": {"field": "birth", "type": "quantitative", "axis": {"orient": "top", "values": [0,10,20,30,40,50,60], "labels": false, "title": null, "tickSize": -7, "tickColor": "#444"}},
  "y": {"field": "death", "type": "quantitative", "axis": {"orient": "right", "values": [0,10,20,30,40,50,60], "labels": false, "title": null, "tickSize": -7, "tickColor": "#444"}},
  "size": {"field": "mult", "type": "quantitative", "scale": {"domain": [0, 20], "range": [0, 1000]}, "legend": null},
  "color": {"field": "kind", "type": "nominal", "scale": {"domain": ["generator", "robust"], "range": ["#0000ff", "#ff0000"]}, "legend": null}
 }},
{"data": {"name": "legend_box"},
 "mark": {"type": "rect", "fill": "transparent", "stroke": "#333", "strokeWidth": 1.5},
 "encoding": {"x": {"field": "birth", "type": "quantitative", "axis": null}, "x2": {"field": "birth2"}, "y": {"field": "death", "type": "quantitative", "axis": null}, "y2": {"field": "death2"}}},
{"data": {"name": "legend_dots"},
 "mark": {"type": "circle", "color": "#ff0000", "size": 90, "opacity": 1, "stroke": "#700", "strokeWidth": 0.6},
 "encoding": {"x": {"field": "birth", "type": "quantitative", "axis": null}, "y": {"field": "death", "type": "quantitative", "axis": null}}},
{"data": {"name": "legend_text"}, "transform": [{"filter": "datum.panel == 'P3'"}],
 "mark": {"type": "text", "align": "left", "baseline": "middle", "font": "DejaVu Serif", "fontSize": 24, "color": "#222"},
 "encoding": {"x": {"field": "birth", "type": "quantitative", "axis": null}, "y": {"field": "death", "type": "quantitative", "axis": null}, "text": {"field": "label"}}},
{"data": {"name": "panel_names"}, "transform": [{"filter": "datum.panel == 'P3'"}],
 "mark": {"type": "text", "align": "right", "baseline": "alphabetic", "font": "Open Sans", "fontStyle": "italic", "fontSize": 54, "color": "#111"},
 "encoding": {"x": {"field": "birth", "type": "quantitative", "axis": null}, "y": {"field": "death", "type": "quantitative", "axis": null}, "text": {"field": "label"}}}
]
}
]
}
]
}
